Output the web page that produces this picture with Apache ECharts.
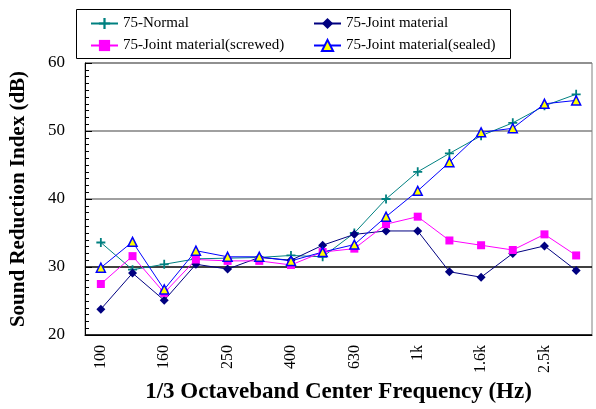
<!DOCTYPE html>
<html><head><meta charset="utf-8">
<script src="https://cdn.jsdelivr.net/npm/echarts@6/dist/echarts.min.js"></script>
<style>html,body{margin:0;padding:0;background:#fff}#c{width:596px;height:409px}</style>
</head><body><div id="c"></div>
<script>
const categories = ['100','125','160','200','250','315','400','500','630','800','1k','1.25k','1.6k','2k','2.5k','3.15k'];
const normal   = [33.6, 29.6, 30.4, 31.2, 31.3, 31.4, 31.7, 31.5, 35.0, 40.0, 44.0, 46.7, 49.3, 51.2, 53.7, 55.4];
const joint    = [23.8, 29.1, 25.1, 30.4, 29.7, 31.4, 31.0, 33.2, 34.8, 35.3, 35.3, 29.3, 28.5, 32.0, 33.1, 29.5];
const screwed  = [27.5, 31.6, 26.2, 31.1, 30.9, 30.9, 30.3, 32.2, 32.7, 36.3, 37.4, 33.9, 33.2, 32.5, 34.8, 31.7];
const sealed   = [29.9, 33.7, 26.7, 32.4, 31.5, 31.5, 30.9, 32.2, 33.3, 37.4, 41.2, 45.4, 49.8, 50.4, 54.0, 54.5];
const names = ['75-Normal','75-Joint material','75-Joint material(screwed)','75-Joint material(sealed)'];
const yTicks = {min: 20, max: 60, interval: 10};

const F = '"Liberation Serif","Times New Roman",serif';
const legendBase = {
  orient: 'vertical', top: 16, padding: 0,
  itemWidth: 27, itemHeight: 14, itemGap: 7,
  textStyle: {fontFamily: F, fontSize: 15, color: '#000'}
};
const chart = echarts.init(document.getElementById('c'));
chart.setOption({
  animation: false,
  graphic: [{type: 'rect', shape: {x: 76.5, y: 9.5, width: 434, height: 49}, style: {fill: 'none', stroke: '#000', lineWidth: 1}, z: 100}],
  grid: {left: 85, right: 4, top: 63, bottom: 68, show: true, borderColor: '#808080', borderWidth: 1},
  legend: [
    Object.assign({}, legendBase, {left: 90, data: [names[0], names[2]]}),
    Object.assign({}, legendBase, {left: 313, data: [names[1], names[3]]})
  ],
  xAxis: {
    type: 'category', data: categories, boundaryGap: true,
    name: '1/3 Octaveband Center Frequency (Hz)', nameLocation: 'middle', nameGap: 46,
    nameTextStyle: {fontFamily: F, fontSize: 23, fontWeight: 'bold', color: '#000'},
    axisLine: {lineStyle: {color: '#000', width: 1}},
    axisTick: {inside: true, length: 4, interval: 0, lineStyle: {color: '#000'}},
    axisLabel: {interval: 1, rotate: 90, margin: 10, fontFamily: F, fontSize: 16, color: '#000'},
    splitLine: {show: false}
  },
  yAxis: {
    type: 'value', min: yTicks.min, max: yTicks.max, interval: yTicks.interval,
    name: 'Sound Reduction Index (dB)', nameLocation: 'middle', nameGap: 56,
    nameTextStyle: {fontFamily: F, fontSize: 21, fontWeight: 'bold', color: '#000'},
    axisLine: {show: true, lineStyle: {color: '#000', width: 1}},
    axisTick: {show: true, inside: true, length: 7, lineStyle: {color: '#000'}},
    minorTick: {show: true, splitNumber: 10, length: 4, lineStyle: {color: '#000'}},
    axisLabel: {margin: 20, fontFamily: F, fontSize: 17, color: '#000'},
    splitLine: {show: true, lineStyle: {color: ['#000', '#000', '#808080', '#808080', '#808080'], width: 1.5}}
  },
  series: [
    {name: names[0], type: 'line', data: normal, symbol: 'path://M4,0H6V4H10V6H6V10H4V6H0V4H4Z', symbolSize: 9,
     lineStyle: {color: '#008080', width: 1}, itemStyle: {color: '#008080'}},
    {name: names[1], type: 'line', data: joint, symbol: 'diamond', symbolSize: 9,
     lineStyle: {color: '#000080', width: 1}, itemStyle: {color: '#000080'}},
    {name: names[2], type: 'line', data: screwed, symbol: 'rect', symbolSize: 8,
     lineStyle: {color: '#FF00FF', width: 1}, itemStyle: {color: '#FF00FF'}},
    {name: names[3], type: 'line', data: sealed, symbol: 'triangle', symbolSize: 9,
     lineStyle: {color: '#0000FF', width: 1}, itemStyle: {color: '#FFFF00', borderColor: '#0000FF', borderWidth: 1.5}}
  ]
});
</script></body></html>
